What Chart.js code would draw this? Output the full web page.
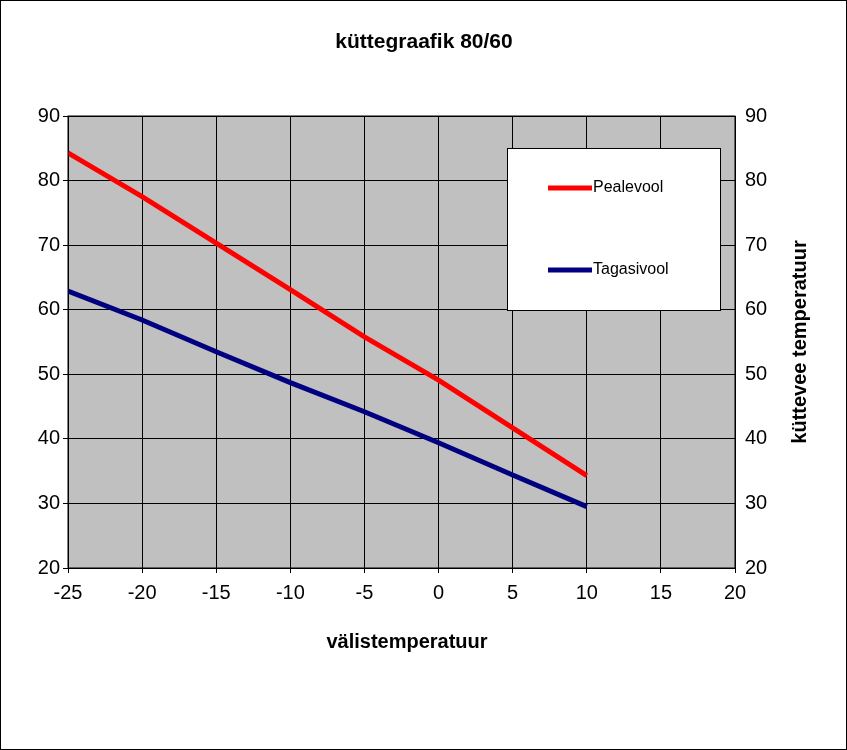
<!DOCTYPE html>
<html><head><meta charset="utf-8">
<script src="https://cdn.jsdelivr.net/npm/chart.js@4/dist/chart.umd.min.js"></script>
<style>html,body{margin:0;padding:0;background:#fff}#w{width:847px;height:750px;position:relative}</style>
</head><body><div id="w"><canvas id="c" width="847" height="750"></canvas></div>
<script>
const outdoorTemps = [-25, -20, -15, -10, -5, 0, 5, 10];
const supplyTemps = [84.3, 77.5, 70.3, 63.1, 55.8, 49.1, 41.7, 34.3];
const returnTemps = [62.9, 58.4, 53.5, 48.7, 44.2, 39.4, 34.4, 29.5];
const seriesNames = ['Pealevool', 'Tagasivool'];
const chartTitle = 'küttegraafik 80/60';
const xTitle = 'välistemperatuur';
const yTitle = 'küttevee temperatuur';

const font = 'Arial, "Liberation Sans", sans-serif';
const deco = {
  id: 'deco',
  beforeDraw(ch) {
    const c = ch.ctx, a = ch.chartArea;
    c.save();
    c.fillStyle = '#fff'; c.fillRect(0, 0, ch.width, ch.height);
    c.fillStyle = '#C0C0C0'; c.fillRect(a.left, a.top, a.right - a.left, a.bottom - a.top);
    c.restore();
  },
  afterDraw(ch) {
    const c = ch.ctx, a = ch.chartArea;
    c.save();
    c.strokeStyle = '#000'; c.lineWidth = 1;
    c.strokeRect(0.5, 0.5, ch.width - 1, ch.height - 1);
    c.strokeRect(a.left, a.top, a.right - a.left, a.bottom - a.top);
    c.fillStyle = '#000'; c.textAlign = 'center'; c.textBaseline = 'middle';
    c.font = 'bold 21px ' + font; c.fillText(chartTitle, 424, 42);
    c.font = 'bold 20px ' + font; c.fillText(xTitle, 407, 642);
    c.save(); c.translate(800, 342); c.rotate(-Math.PI / 2); c.fillText(yTitle, 0, 0); c.restore();
    c.fillStyle = '#fff'; c.fillRect(507, 148, 213, 162);
    c.strokeRect(507.5, 148.5, 213, 162);
    const ys = [188, 270];
    ch.data.datasets.forEach((d, i) => {
      c.strokeStyle = d.borderColor; c.lineWidth = 5;
      c.beginPath(); c.moveTo(548, ys[i]); c.lineTo(592, ys[i]); c.stroke();
      c.fillStyle = '#000'; c.textAlign = 'left'; c.font = '16px ' + font;
      c.fillText(d.label, 593, ys[i]);
    });
    c.restore();
  }
};
new Chart(document.getElementById('c'), {
  type: 'line',
  data: {
    datasets: [
      { label: seriesNames[0], data: outdoorTemps.map((x, i) => ({ x, y: supplyTemps[i] })), borderColor: '#FF0000', borderWidth: 5, pointRadius: 0, tension: 0 },
      { label: seriesNames[1], data: outdoorTemps.map((x, i) => ({ x, y: returnTemps[i] })), borderColor: '#000080', borderWidth: 5, pointRadius: 0, tension: 0 }
    ]
  },
  options: {
    responsive: false, animation: false, devicePixelRatio: 1,
    layout: { padding: { top: 116, left: 0, right: 0, bottom: 0 } },
    plugins: { legend: { display: false }, tooltip: { enabled: false } },
    scales: {
      x: { type: 'linear', min: -25, max: 20,
        ticks: { stepSize: 5, color: '#000', font: { size: 20, family: font }, padding: 8 },
        grid: { color: '#000', drawTicks: true, tickLength: 5 }, border: { color: '#000' },
        afterFit(s) { s.height = 182; } },
      y: { position: 'left', min: 20, max: 90,
        ticks: { stepSize: 10, color: '#000', font: { size: 20, family: font } },
        grid: { color: '#000', tickLength: 5 }, border: { color: '#000' },
        afterFit(s) { s.width = 68; } },
      y2: { position: 'right', min: 20, max: 90,
        ticks: { stepSize: 10, color: '#000', font: { size: 20, family: font }, padding: 2 },
        grid: { display: false }, border: { color: '#000' },
        afterFit(s) { s.width = 112; } }
    }
  },
  plugins: [deco]
});
</script></body></html>
